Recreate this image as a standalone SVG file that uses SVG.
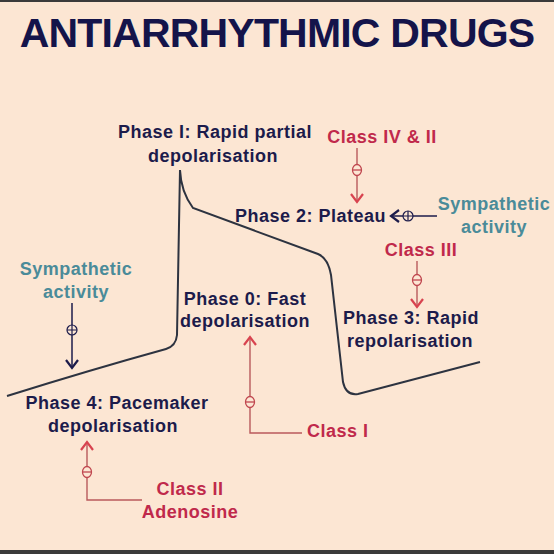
<svg xmlns="http://www.w3.org/2000/svg" width="554" height="554" viewBox="0 0 554 554">
<defs>
<style>
.t{font-family:"Liberation Sans",Arial,sans-serif;font-weight:bold;font-size:18px;letter-spacing:0.5px;}
.n{fill:#1c1b4b;}
.r{fill:#c0294b;}
.g{fill:#4a8b99;}
.rl{stroke:#b95a5c;stroke-width:1.4;fill:none;}
.nl{stroke:#1c1b4b;stroke-width:1.5;fill:none;}
.rc{fill:#fce6d3;stroke:#c0474f;stroke-width:1.3;}
.nc{fill:#fce6d3;stroke:#1c1b4b;stroke-width:1.2;}
</style>
<marker id="ar" markerWidth="12" markerHeight="14" refX="9" refY="7" orient="auto" markerUnits="userSpaceOnUse"><path d="M1,1 L9,7 L1,13" fill="none" stroke="#d8434f" stroke-width="2.2"/></marker>
<marker id="an" markerWidth="12" markerHeight="14" refX="9" refY="7" orient="auto" markerUnits="userSpaceOnUse"><path d="M1,1 L9,7 L1,13" fill="none" stroke="#1c1b4b" stroke-width="2.2"/></marker>
</defs>
<rect width="554" height="554" fill="#fce6d3"/>
<rect width="554" height="2" fill="#3a3a3a"/>
<rect y="550" width="554" height="4" fill="#3a3a3a"/>
<text x="277" y="47" text-anchor="middle" font-family="'Liberation Sans',Arial,sans-serif" font-weight="bold" font-size="41" letter-spacing="-0.8" fill="#14144a">ANTIARRHYTHMIC DRUGS</text>
<g id="curve"><path d="M7,396 Q90,370 166,349 Q176,346 177,335 L180,170 Q181,192 193,208 L318,254 Q328,258 331,275 L343,382 Q346,396 358,394 L480,362" fill="none" stroke="#2d3340" stroke-width="2"/></g>
<g id="connectors">
<line class="rl" x1="357" y1="148" x2="357" y2="202" marker-end="url(#ar)"/>
<line class="nl" x1="437" y1="216" x2="391" y2="216" marker-end="url(#an)"/>
<line class="rl" x1="417" y1="261" x2="417" y2="307" marker-end="url(#ar)"/>
<line class="nl" x1="72" y1="303" x2="72" y2="368" marker-end="url(#an)"/>
<path class="rl" d="M302,433 L250,433 L250,337" marker-end="url(#ar)"/>
<path class="rl" d="M142,500 L87,500 L87,442" marker-end="url(#ar)"/>
<ellipse class="rc" cx="357" cy="170" rx="4.5" ry="5.5"/><line x1="353" y1="170" x2="361" y2="170" stroke="#c0474f" stroke-width="1.3"/>
<ellipse class="rc" cx="417" cy="280" rx="4.5" ry="5.5"/><line x1="413" y1="280" x2="421" y2="280" stroke="#c0474f" stroke-width="1.3"/>
<ellipse class="rc" cx="250" cy="402" rx="4.5" ry="5.5"/><line x1="246" y1="402" x2="254" y2="402" stroke="#c0474f" stroke-width="1.3"/>
<ellipse class="rc" cx="87" cy="472" rx="4.5" ry="5.5"/><line x1="83" y1="472" x2="91" y2="472" stroke="#c0474f" stroke-width="1.3"/>
<circle class="nc" cx="408" cy="216" r="5"/><path d="M403,216 H413 M408,211 V221" stroke="#1c1b4b" stroke-width="1.2"/>
<circle class="nc" cx="72" cy="330" r="5"/><path d="M67,330 H77 M72,325 V335" stroke="#1c1b4b" stroke-width="1.2"/>
</g>
<g id="phase1" class="t n" text-anchor="middle"><text x="215" y="138">Phase I: Rapid partial</text><text x="213" y="162">depolarisation</text></g>
<g id="class4" class="t r" text-anchor="middle"><text x="382" y="143">Class IV &amp; II</text></g>
<g id="phase2" class="t n"><text x="235" y="222">Phase 2: Plateau</text></g>
<g id="symp2" class="t g" text-anchor="middle"><text x="494" y="210">Sympathetic</text><text x="494" y="233">activity</text></g>
<g id="class3" class="t r" text-anchor="middle"><text x="421" y="256">Class III</text></g>
<g id="phase3" class="t n" text-anchor="middle"><text x="411" y="324">Phase 3: Rapid</text><text x="410" y="347">repolarisation</text></g>
<g id="symp1" class="t g" text-anchor="middle"><text x="76" y="275">Sympathetic</text><text x="76" y="298">activity</text></g>
<g id="phase0" class="t n" text-anchor="middle"><text x="245" y="305">Phase 0: Fast</text><text x="245" y="327">depolarisation</text></g>
<g id="class1" class="t r"><text x="307" y="437">Class I</text></g>
<g id="phase4" class="t n" text-anchor="middle"><text x="117" y="409">Phase 4: Pacemaker</text><text x="113" y="432">depolarisation</text></g>
<g id="class2" class="t r" text-anchor="middle"><text x="190" y="495">Class II</text><text x="190" y="518">Adenosine</text></g>
</svg>
